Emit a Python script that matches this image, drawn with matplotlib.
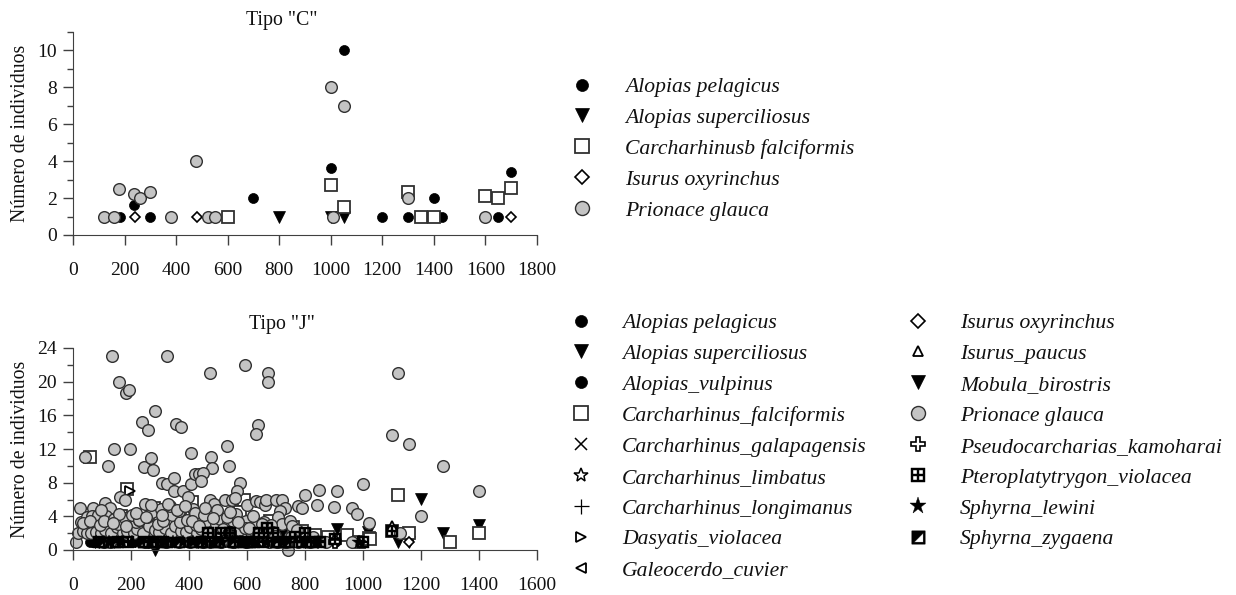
import matplotlib
matplotlib.use('Agg')
import matplotlib.pyplot as plt
from matplotlib.path import Path
from matplotlib.lines import Line2D

plt.rcParams['font.family'] = ['Liberation Serif', 'DejaVu Serif']

#Tipo C data (x, y per species)
c_pelagicus_x = [182, 237, 299, 698, 1050, 1000, 1200, 1300, 1400, 1430, 1650, 1700]
c_pelagicus_y = [1, 1.65, 1, 2, 10, 3.65, 1, 1, 2, 1, 1, 3.4]
c_superciliosus_x = [800, 1000, 1050]
c_superciliosus_y = [1, 1, 1]
c_falciformis_x = [600, 1000, 1050, 1300, 1350, 1400, 1600, 1650, 1700]
c_falciformis_y = [1, 2.7, 1.5, 2.35, 1, 1, 2.1, 2, 2.55]
c_oxyrinchus_x = [240, 480, 1700]
c_oxyrinchus_y = [1, 1, 1]
c_glauca_x = [119, 159, 179, 237, 259, 299, 379, 479, 524, 550, 1000, 1050, 1010, 1300, 1600]
c_glauca_y = [1, 1, 2.5, 2.2, 2, 2.35, 1, 4, 1, 1, 8, 7, 1, 2, 1]

#Tipo J data
j_pelagicus_x = [70, 95, 130, 210, 250, 300, 340, 390, 430, 470, 530, 590, 640, 700, 760, 830, 905]
j_pelagicus_y = [1, 1, 1, 1, 1, 1, 1, 1, 1, 1, 1, 1, 1, 1, 1, 1, 1]
j_superciliosus_x = [75, 90, 110, 282, 430, 560, 640, 735, 800, 845, 910, 985, 1018, 1121, 1159, 1200, 1275, 1400]
j_superciliosus_y = [1, 1, 1, 0, 1, 1, 2, 1, 1, 1, 2.5, 1, 2.1, 1, 1, 6.1, 2, 3]
j_vulpinus_x = [60, 120, 235, 290, 370, 450, 510, 620, 680, 780, 860]
j_vulpinus_y = [1, 1, 1, 1, 1, 1, 1, 1, 1, 1, 1]
j_falciformis_x = [60, 185, 165, 235, 410, 590, 430, 480, 520, 620, 655, 700, 790, 880, 945, 985, 1020, 1025, 1100,
                   1121, 1157, 1300, 1400, 280, 330, 350, 450, 555, 735, 150, 260, 370, 575, 680, 760, 835]
j_falciformis_y = [11, 7.2, 4, 4.2, 5.7, 6, 4, 3.2, 3, 2.8, 3, 2.5, 2.2, 1.6, 1.8, 1, 1.4, 1.3, 2.3,
                   6.5, 2, 1, 2, 5, 3, 2, 3, 2, 2, 2, 3, 4, 4.5, 3.5, 2.7, 1.8]
j_galapagensis_x = [280, 520, 700]
j_galapagensis_y = [1, 1, 1]
j_limbatus_x = [150, 440, 905]
j_limbatus_y = [1, 2, 1.2]
j_longimanus_x = [140, 400, 630]
j_longimanus_y = [1, 3, 2]
j_violacea_x = [195]
j_violacea_y = [7]
j_cuvier_x = [350, 780]
j_cuvier_y = [1, 1]
j_oxyrinchus_x = [650, 1158]
j_oxyrinchus_y = [1, 1]
j_paucus_x = [1100]
j_paucus_y = [2.9]
j_birostris_x = [720, 840]
j_birostris_y = [2, 1]
j_glauca_x = [10, 25, 133, 160, 183, 193, 238, 260, 283, 323, 354, 374, 408, 43, 122, 143, 197, 246, 269, 275,
              308, 323, 347, 349, 380, 406, 398, 420, 436, 163, 180, 247, 110, 126, 70, 27, 49, 64, 87, 115,
              98, 68, 471, 592, 671, 673, 639, 630, 530, 475, 480, 539, 449, 442, 576, 564, 849, 910, 1000, 800,
              777, 791, 840, 900, 961, 980, 1021, 524, 547, 559, 601, 631, 645, 662, 665, 700, 719, 730, 713, 707,
              719, 740, 749, 755, 771, 472, 486, 415, 1121, 1100, 1157, 1275, 1400, 1200, 1127,
              18, 33, 47, 61, 78, 97, 112, 131, 152, 171, 186, 209, 221, 243, 262, 284, 297, 316, 338, 352,
              372, 391, 402, 428, 441, 466, 503, 548, 572, 613, 664, 36, 59, 92, 106, 143, 154, 178, 216, 229,
              255, 293, 311, 343, 369, 394, 424, 438, 463, 492, 508, 533, 551, 583, 598, 627, 658, 683, 108, 127,
              247, 258, 276, 322, 366, 402, 447, 474, 509, 552, 597, 676, 704, 733, 776, 816, 871, 962,
              157, 203, 228, 271, 302, 333, 367, 421, 452, 498, 532, 561, 593, 622, 688, 752, 826,
              138, 184, 218, 252, 268, 307, 327, 359, 385, 412, 433, 456, 483, 517, 541, 568, 606, 637, 650, 695]
j_glauca_y = [1, 5, 23, 20, 18.6, 19, 15.2, 14.2, 16.5, 23, 15, 14.6, 11.5, 11, 10, 12, 12, 9.9, 10.9, 9.5,
              8, 7.8, 8.6, 7, 7, 7.8, 6.3, 9, 9, 6.3, 6, 5.5, 5.6, 5, 5, 3.3, 3.9, 4, 4.2, 4,
              4.7, 2.9, 21, 22, 21, 20, 14.8, 13.8, 12.3, 11, 9.8, 10, 9.2, 8.2, 8, 7, 7.1, 7, 7.9, 6.5,
              5.2, 5, 5.4, 5.1, 5, 4.3, 3.2, 6, 6, 6.2, 5.3, 5.8, 5.7, 5.3, 6, 6, 6, 5, 4.6, 3.9,
              3.1, 0, 3.5, 2.9, 2.4, 6, 5.5, 4.9, 21, 13.7, 12.6, 10, 7, 4, 2,
              2, 2.2, 2, 2, 2.1, 2, 2.4, 2, 2.7, 2, 2.3, 2, 2.5, 2, 2.8, 2.4, 2.1, 2.6, 2, 2.9,
              2.3, 2.1, 2.7, 2, 2.5, 2, 2.6, 2.2, 2.4, 2.1, 2.3, 3.2, 3.5, 3, 3.4, 3.7, 3.1, 3.8, 3.3, 3.6,
              3.9, 3.1, 3.5, 4.1, 3.3, 3.6, 3, 3.9, 3.4, 3.1, 3.7, 3.2, 3.4, 3.1, 3.5, 2.9, 3.3, 3, 1, 1,
              1, 1, 1, 1, 1, 1, 1, 1, 1, 1, 1, 1, 1, 1, 1, 1, 1, 1,
              4.3, 4.1, 3.6, 4.5, 4.9, 5.2, 4.6, 4.4, 4.1, 4.8, 3.9, 4.3, 2.6, 4, 2.1, 1.6, 1.5,
              3.2, 2.8, 4.4, 3.9, 5.3, 4.2, 5.5, 4.8, 5.2, 3.4, 2.8, 5, 3.8, 2.5, 4.5, 3.3, 2.6, 1.9, 3.1, 1.7]
j_kamoharai_x = [540, 905]
j_kamoharai_y = [2, 1]
j_pteroplaty_x = [90, 155, 190, 245, 285, 310, 445, 465, 490, 510, 540, 560, 590, 600, 625, 640, 655, 670, 690, 710, 730, 765, 790, 800, 820, 850, 903, 1000, 1100]
j_pteroplaty_y = [1, 1, 1, 1, 1, 1, 1, 2, 1, 2, 2, 1, 1, 1, 1, 2, 1, 2.6, 2, 1, 1, 1.5, 1, 2, 1, 1, 1.3, 1, 2.3]
j_lewini_x = [80, 125, 170, 205, 265, 315, 345, 380, 415, 455, 485, 515, 575, 615, 670, 725, 795, 845, 985]
j_lewini_y = [1, 1, 1, 1, 1, 1, 1, 1, 1, 1, 1, 1, 1, 1, 1, 1, 1, 1, 1]
j_zygaena_x = [105, 145, 240, 275, 325, 365, 410, 440, 500, 550, 610, 700, 745, 810]
j_zygaena_y = [1, 1, 1, 1, 1, 1, 1, 1, 1, 1, 1, 1, 1, 1]

c_names = ['Alopias pelagicus', 'Alopias superciliosus', 'Carcharhinusb falciformis', 'Isurus oxyrinchus', 'Prionace glauca']
j_names = ['Alopias pelagicus', 'Alopias superciliosus', 'Alopias_vulpinus', 'Carcharhinus_falciformis',
           'Carcharhinus_galapagensis', 'Carcharhinus_limbatus', 'Carcharhinus_longimanus', 'Dasyatis_violacea',
           'Galeocerdo_cuvier', 'Isurus oxyrinchus', 'Isurus_paucus', 'Mobula_birostris', 'Prionace glauca',
           'Pseudocarcharias_kamoharai', 'Pteroplatytrygon_violacea', 'Sphyrna_lewini', 'Sphyrna_zygaena']

#custom markers: square with four windows, and square with the lower right half open
grid_marker = Path([(-1, -1), (1, -1), (1, 1), (-1, 1), (-1, -1),
                    (-.7, -.7), (-.7, -.15), (-.15, -.15), (-.15, -.7), (-.7, -.7),
                    (.15, -.7), (.15, -.15), (.7, -.15), (.7, -.7), (.15, -.7),
                    (-.7, .15), (-.7, .7), (-.15, .7), (-.15, .15), (-.7, .15),
                    (.15, .15), (.15, .7), (.7, .7), (.7, .15), (.15, .15)],
                   [1, 2, 2, 2, 79, 1, 2, 2, 2, 79, 1, 2, 2, 2, 79, 1, 2, 2, 2, 79, 1, 2, 2, 2, 79])
half_marker = Path([(-1, -1), (1, -1), (1, 1), (-1, 1), (-1, -1),
                    (-.65, -.7), (.7, .65), (.7, -.7), (-.65, -.7)],
                   [1, 2, 2, 2, 79, 1, 2, 2, 79])

black = '#000000'
edge = '#303030'
gray = '#c4c4c4'
st_circle = dict(marker='o', ms=7.2, mfc=black, mec=black, mew=0.5)
st_tri = dict(marker='v', ms=8, mfc=black, mec=black, mew=0.5)
st_square = dict(marker='s', ms=8, mfc='white', mec=edge, mew=1.3)
st_x = dict(marker='x', ms=7.6, mfc='none', mec=black, mew=1.1)
st_ostar = dict(marker='*', ms=8.5, mfc='white', mec=black, mew=1.1)
st_plus = dict(marker='+', ms=9, mfc='none', mec=black, mew=0.9)
st_right = dict(marker='>', ms=6.6, mfc='white', mec=black, mew=1.3)
st_left = dict(marker='<', ms=6.6, mfc='white', mec=black, mew=1.3)
st_diamond = dict(marker='D', ms=5.6, mfc='white', mec=black, mew=1.2)
st_up = dict(marker='^', ms=6.6, mfc='white', mec=black, mew=1.3)
st_glauca = dict(marker='o', ms=8.4, mfc=gray, mec=edge, mew=1.0)
st_pplus = dict(marker='P', ms=8, mfc='white', mec=black, mew=1.2)
st_grid = dict(marker=grid_marker, ms=8, mfc=black, mec=black, mew=0.3)
st_fstar = dict(marker='*', ms=10.5, mfc=black, mec=black, mew=0.3)
st_half = dict(marker=half_marker, ms=8, mfc=black, mec=black, mew=0.3)

W, H = 1236.0, 595.0
fig = plt.figure(figsize=(12.36, 5.95), dpi=100)
ax1 = fig.add_axes([73/W, 1-235/H, 464/W, 203/H])
ax2 = fig.add_axes([73/W, 1-550/H, 464/W, 202/H])

def pts(ax, x, y, st):
    ax.plot(x, y, ls='none', clip_on=False, **st)

c_series = [(c_pelagicus_x, c_pelagicus_y, st_circle), (c_superciliosus_x, c_superciliosus_y, st_tri),
            (c_falciformis_x, c_falciformis_y, st_square), (c_oxyrinchus_x, c_oxyrinchus_y, st_diamond),
            (c_glauca_x, c_glauca_y, st_glauca)]
for x, y, st in c_series:
    pts(ax1, x, y, st)

j_series = [(j_pelagicus_x, j_pelagicus_y, st_circle), (j_superciliosus_x, j_superciliosus_y, st_tri),
            (j_vulpinus_x, j_vulpinus_y, st_circle), (j_falciformis_x, j_falciformis_y, st_square),
            (j_galapagensis_x, j_galapagensis_y, st_x), (j_limbatus_x, j_limbatus_y, st_ostar),
            (j_longimanus_x, j_longimanus_y, st_plus), (j_violacea_x, j_violacea_y, st_right),
            (j_cuvier_x, j_cuvier_y, st_left), (j_oxyrinchus_x, j_oxyrinchus_y, st_diamond),
            (j_paucus_x, j_paucus_y, st_up), (j_birostris_x, j_birostris_y, st_tri),
            (j_glauca_x, j_glauca_y, st_glauca), (j_kamoharai_x, j_kamoharai_y, st_pplus),
            (j_pteroplaty_x, j_pteroplaty_y, st_grid), (j_lewini_x, j_lewini_y, st_fstar),
            (j_zygaena_x, j_zygaena_y, st_half)]
for x, y, st in j_series:
    pts(ax2, x, y, st)

#axes
for ax in (ax1, ax2):
    ax.spines['top'].set_visible(False)
    ax.spines['right'].set_visible(False)
    ax.spines['left'].set_color('#404040')
    ax.spines['bottom'].set_color('#404040')
    ax.tick_params(axis='both', which='major', length=7.5, width=1, color='#404040', labelsize=14, labelcolor='#111111')
    ax.tick_params(axis='y', which='minor', length=4, width=1, color='#404040')
    ax.tick_params(axis='x', pad=12)
    ax.tick_params(axis='y', pad=4)
    ax.set_ylabel('Número de individuos', fontsize=14.2, color='#111111')
    ax.yaxis.set_label_coords(-0.093, 0.5)

ax1.set_xlim(0, 1800)
ax1.set_ylim(0, 11)
ax1.set_xticks([0, 200, 400, 600, 800, 1000, 1200, 1400, 1600, 1800])
ax1.set_yticks([0, 2, 4, 6, 8, 10])
ax1.set_yticks([1, 3, 5, 7, 9, 11], minor=True)

ax2.set_xlim(0, 1600)
ax2.set_ylim(0, 24)
ax2.set_xticks([0, 200, 400, 600, 800, 1000, 1200, 1400, 1600])
ax2.set_yticks([0, 4, 8, 12, 16, 20, 24])
ax2.set_yticks([2, 6, 10, 14, 18, 22], minor=True)

fig.text(282/W, 1-21/H, 'Tipo "C"', ha='center', va='center', fontsize=14.3, color='#111111')
fig.text(282/W, 1-324/H, 'Tipo "J"', ha='center', va='center', fontsize=14.3, color='#111111')

#legends
def handles(styles):
    return [Line2D([], [], ls='none', **st) for st in styles]

leg_font = dict(family='Liberation Serif', style='italic', size=15.6)
fig.legend(handles([s[2] for s in c_series]), c_names, loc='upper left', bbox_to_anchor=(560/W, 1-77/H),
           frameon=False, prop=leg_font, handlelength=2, handletextpad=1.0, labelspacing=0.495, markerscale=1.2,
           borderpad=0, borderaxespad=0, labelcolor='#111111')
fig.legend(handles([s[2] for s in j_series]), j_names, loc='upper left', bbox_to_anchor=(559/W, 1-313/H),
           frameon=False, prop=leg_font, ncol=2, handlelength=2, handletextpad=0.92, labelspacing=0.495, markerscale=1.2,
           columnspacing=1.38, borderpad=0, borderaxespad=0, labelcolor='#111111')

fig.savefig('out.png', dpi=100)
